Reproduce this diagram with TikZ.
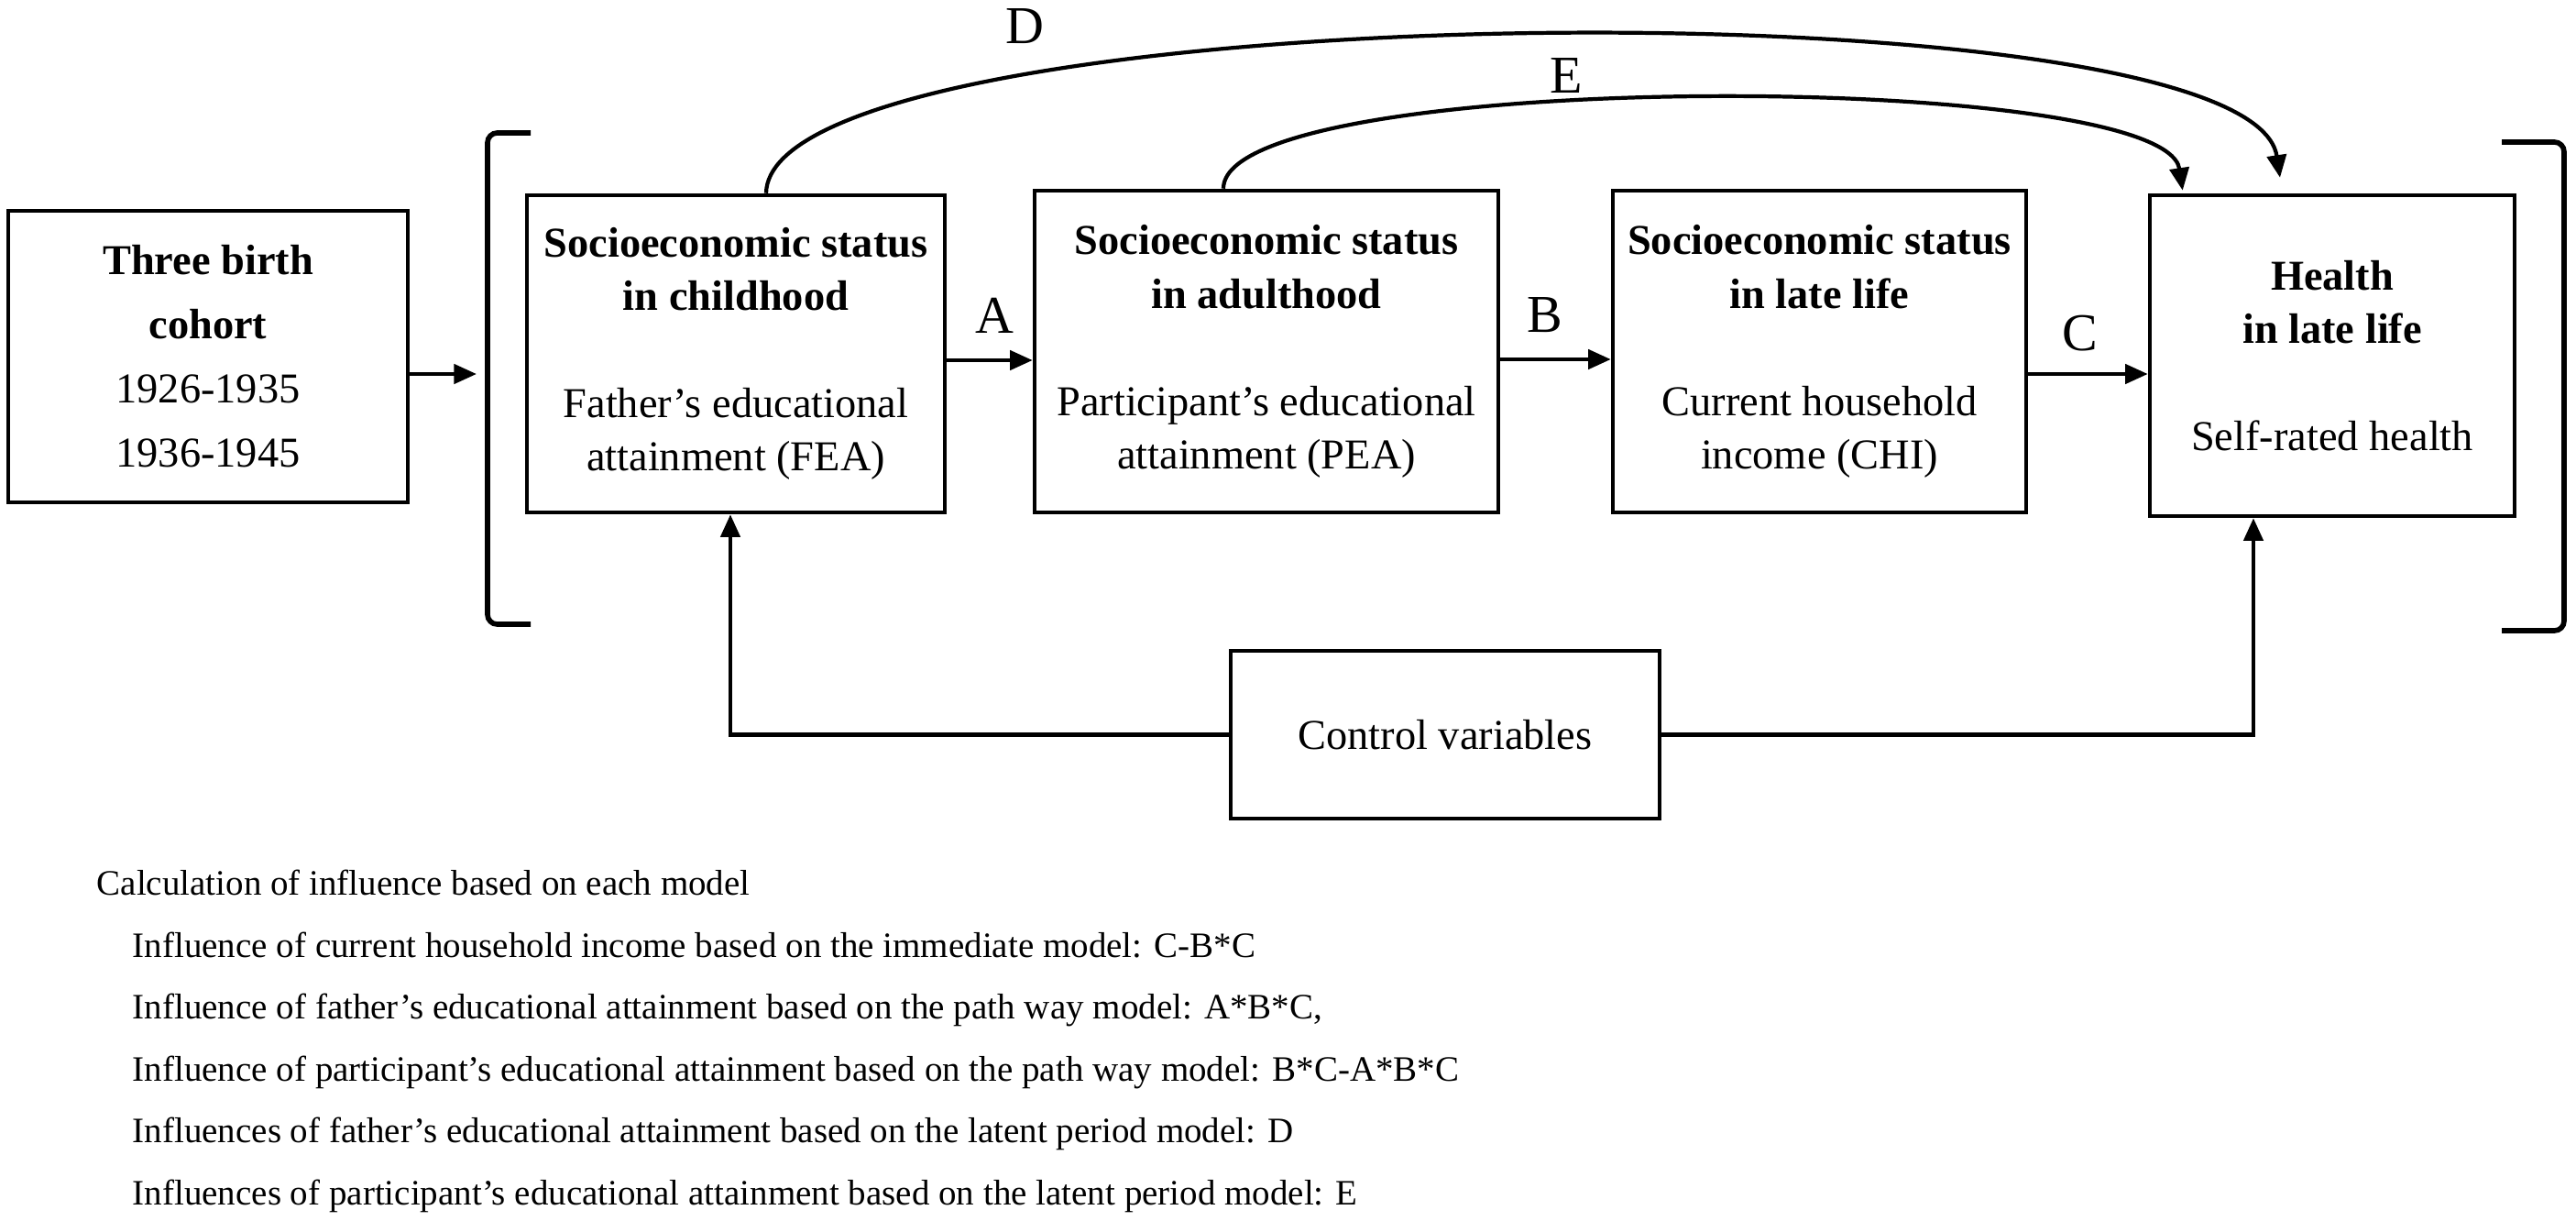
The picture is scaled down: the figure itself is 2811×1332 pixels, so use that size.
\documentclass[tikz,border=0pt]{standalone}
\usepackage{fontspec}
\setmainfont{Liberation Serif}
\usetikzlibrary{arrows.meta,calc}
\begin{document}
\begin{tikzpicture}[x=0.1mm,y=-0.1mm,
  box/.style={draw,line width=1.3pt,align=center,inner sep=0pt,
    font=\fontsize{13.2}{16.6}\selectfont},
  conn/.style={line width=1.2pt},
  arr/.style={conn,-{Triangle[length=7pt,width=6pt]}},
  lbl/.style={font=\fontsize{16.5}{18}\selectfont,inner sep=0pt},
  brk/.style={line width=1.6pt,rounded corners=3pt},
  note/.style={anchor=base west,inner sep=0pt,font=\fontsize{11.1}{13}\selectfont}]
\useasboundingbox (0,0) rectangle (2811,1332);

% boxes
\node[box,minimum width=43.6mm,minimum height=31.8mm,
  font=\fontsize{13.2}{19.9}\selectfont] (coh) at (227,389)
  {\textbf{Three birth}\\\textbf{cohort}\\1926-1935\\1936-1945};
\node[box,minimum width=45.6mm,minimum height=34.6mm] (fea) at (803,386)
  {\textbf{Socioeconomic status}\\\textbf{in childhood}\\[16.6pt]Father’s educational\\attainment (FEA)};
\node[box,minimum width=50.6mm,minimum height=35.1mm] (pea) at (1382,383.5)
  {\textbf{Socioeconomic status}\\\textbf{in adulthood}\\[16.6pt]Participant’s educational\\attainment (PEA)};
\node[box,minimum width=45.1mm,minimum height=35.1mm] (chi) at (1985.5,383.5)
  {\textbf{Socioeconomic status}\\\textbf{in late life}\\[16.6pt]Current household\\income (CHI)};
\node[box,minimum width=39.8mm,minimum height=35mm] (hlt) at (2545,388)
  {\textbf{Health}\\\textbf{in late life}\\[16.6pt]Self-rated health};
\node[box,minimum width=46.8mm,minimum height=18.3mm] (ctrl) at (1577,801.5)
  {Control variables};

% brackets
\draw[brk] (579,145) -| (532,681) -- (579,681);
\draw[brk] (2730,155) -| (2798,688) -- (2730,688);

% cohort arrow
\coordinate (cohout) at ($(coh.east)+(0,19)$);
\coordinate (cohin) at (520,408);
\draw[arr] (cohout) -- (cohin);

% A, B, C
\coordinate (a1) at ($(fea.east)+(0,7)$);
\draw[arr] (a1) -- (a1 -| pea.west);
\coordinate (b1) at ($(pea.east)+(0,8.5)$);
\draw[arr] (b1) -- (b1 -| chi.west);
\coordinate (c1) at ($(chi.east)+(0,24.5)$);
\draw[arr] (c1) -- (c1 -| hlt.west);
\node[lbl] (la) at (1085,344) {A};
\node[lbl] (lb) at (1686,344) {B};
\node[lbl] (lc) at (2270,364) {C};

% control variables
\coordinate (feain) at ($(fea.south)+(-6,0)$);
\draw[arr] (ctrl.west) -| (feain);
\coordinate (hltin) at ($(hlt.south)+(-86,0)$);
\draw[arr] (ctrl.east) -| (hltin);

% D and E curves
\coordinate (ds) at ($(fea.north)+(33,0)$);
\coordinate (de) at ($(hlt.north)+(-57,-17)$);
\draw[arr] (ds) .. controls (840,-5) and (2455,-25) .. (de);
\node[lbl] (ld) at (1118,29) {D};
\coordinate (es) at ($(pea.north)+(-47,0)$);
\coordinate (ee) at ($(hlt.north west)+(38,-3)$);
\draw[arr] (es) .. controls (1335,75) and (2362,75) .. (ee);
\node[lbl] (le) at (1709,83) {E};

% notes
\node[note] (n0) at (105,976) {Calculation of influence based on each model};
\node[note] (n1) at (144,1044) {Influence of current household income based on the immediate model: C-B*C};
\node[note] (n2) at (144,1111) {Influence of father’s educational attainment based on the path way model: A*B*C,};
\node[note] (n3) at (144,1179) {Influence of participant’s educational attainment based on the path way model: B*C-A*B*C};
\node[note] (n4) at (144,1246) {Influences of father’s educational attainment based on the latent period model: D};
\node[note] (n5) at (144,1314) {Influences of participant’s educational attainment based on the latent period model: E};
\end{tikzpicture}
\end{document}
